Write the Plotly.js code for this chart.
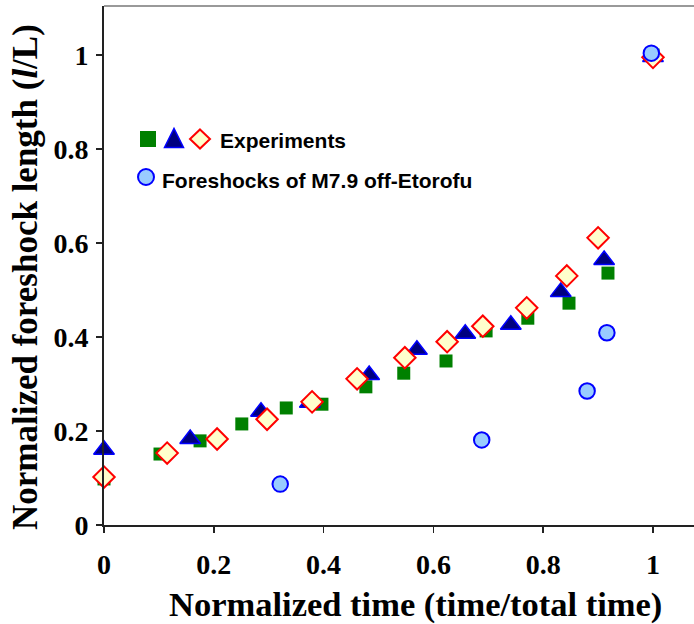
<!DOCTYPE html>
<html>
<head>
<meta charset="utf-8">
<script src="https://cdn.plot.ly/plotly-3.0.1.min.js"></script>
<style>html,body{margin:0;padding:0;background:#fff;}#chart{width:694px;height:624px;}</style>
</head>
<body>
<div id="chart"></div>
<script>
// Experiments: green squares
const sqX = [0.0, 0.102, 0.175, 0.251, 0.332, 0.397, 0.477, 0.546, 0.623, 0.696, 0.772, 0.847, 0.918, 1.0];
const sqY = [0.098, 0.151, 0.179, 0.215, 0.249, 0.257, 0.294, 0.323, 0.349, 0.413, 0.440, 0.472, 0.536, 1.0];
// Experiments: blue triangles
const triX = [0.0, 0.157, 0.286, 0.375, 0.483, 0.570, 0.658, 0.741, 0.832, 0.911, 1.0];
const triY = [0.160, 0.183, 0.241, 0.260, 0.319, 0.373, 0.407, 0.426, 0.496, 0.564, 0.996];
// Experiments: red diamonds
const diaX = [0.0, 0.115, 0.206, 0.297, 0.379, 0.461, 0.548, 0.625, 0.690, 0.770, 0.843, 0.900, 1.0];
const diaY = [0.102, 0.153, 0.183, 0.225, 0.262, 0.311, 0.356, 0.390, 0.423, 0.462, 0.530, 0.611, 0.995];
// Foreshocks of M7.9 off-Etorofu
const eqX = [0.321, 0.688, 0.880, 0.916, 0.997];
const eqY = [0.087, 0.181, 0.285, 0.409, 1.004];

const tickVals = [0, 0.2, 0.4, 0.6, 0.8, 1];
const tickText = ['0', '0.2', '0.4', '0.6', '0.8', '1'];

const serif = 'Liberation Serif, Times New Roman, serif';
const sans = 'Liberation Sans, Arial, sans-serif';

const traces = [
  {x: sqX, y: sqY, type: 'scatter', mode: 'markers', cliponaxis: false,
   marker: {symbol: 'square', size: 13, color: '#008000', line: {width: 0}}},
  {x: triX, y: triY, type: 'scatter', mode: 'markers', cliponaxis: false,
   marker: {symbol: 'triangle-up', size: 18, color: '#000080', line: {width: 1.5, color: '#0000FF'}}},
  {x: diaX, y: diaY, type: 'scatter', mode: 'markers', cliponaxis: false,
   marker: {symbol: 'diamond', size: 16.5, color: '#FFFFCC', line: {width: 2, color: '#FF0000'}}},
  {x: eqX, y: eqY, type: 'scatter', mode: 'markers', cliponaxis: false,
   marker: {symbol: 'circle', size: 15.5, color: '#99CCFF', line: {width: 2, color: '#0000FF'}}}
];

const W = 590, H = 519, L = 104, T = 6;
function px(x){ return (x - L) / W; }
function py(y){ return (T + H - y) / H; }

const layout = {
  width: 694, height: 624,
  margin: {l: L, r: 0, t: T, b: 624 - T - H},
  paper_bgcolor: '#fff', plot_bgcolor: '#fff',
  showlegend: false,
  xaxis: {
    range: [0, 1.0747], tickvals: tickVals, ticktext: tickText,
    showgrid: false, zeroline: false, showline: true, linecolor: '#222', linewidth: 2,
    ticks: 'outside', ticklen: 6, tickwidth: 1.5, tickcolor: '#222',
    ticklabelstandoff: 7,
    tickfont: {family: serif, size: 28, color: '#000', weight: 'bold'}
  },
  yaxis: {
    range: [0, 1.1043], tickvals: tickVals, ticktext: tickText,
    showgrid: false, zeroline: false, showline: true, linecolor: '#222', linewidth: 2,
    ticks: 'outside', ticklen: 6, tickwidth: 1.5, tickcolor: '#222',
    ticklabelstandoff: 2,
    tickfont: {family: serif, size: 28, color: '#000', weight: 'bold'}
  },
  shapes: [
    {type: 'line', xref: 'paper', yref: 'paper', x0: 0, x1: 1, y0: 1, y1: 1, line: {color: '#999', width: 2}},
    // legend symbols
    {type: 'rect', xref: 'paper', yref: 'paper', xsizemode: 'pixel', ysizemode: 'pixel',
     xanchor: px(148), yanchor: py(139), x0: -8, x1: 8, y0: -8, y1: 8,
     fillcolor: '#008000', line: {width: 0}},
    {type: 'path', xref: 'paper', yref: 'paper', xsizemode: 'pixel', ysizemode: 'pixel',
     xanchor: px(174), yanchor: py(138), path: 'M -9.5 -9.5 L 9.5 -9.5 L 0 9.5 Z',
     fillcolor: '#000080', line: {width: 1.5, color: '#0000FF'}},
    {type: 'path', xref: 'paper', yref: 'paper', xsizemode: 'pixel', ysizemode: 'pixel',
     xanchor: px(200), yanchor: py(139), path: 'M 0 9.5 L 10 0 L 0 -9.5 L -10 0 Z',
     fillcolor: '#FFFFCC', line: {width: 2, color: '#FF0000'}},
    {type: 'circle', xref: 'paper', yref: 'paper', xsizemode: 'pixel', ysizemode: 'pixel',
     xanchor: px(146), yanchor: py(177), x0: -8, x1: 8, y0: -8, y1: 8,
     fillcolor: '#99CCFF', line: {width: 2, color: '#0000FF'}}
  ],
  annotations: [
    {text: 'Experiments', xref: 'paper', yref: 'paper', x: px(218), y: py(140),
     xanchor: 'left', yanchor: 'middle', showarrow: false,
     font: {family: sans, size: 21, color: '#000', weight: 'bold'}},
    {text: 'Foreshocks of M7.9 off-Etorofu', xref: 'paper', yref: 'paper', x: px(160), y: py(181),
     xanchor: 'left', yanchor: 'middle', showarrow: false,
     font: {family: sans, size: 21, color: '#000', weight: 'bold'}},
    {text: 'Normalized time (time/total time)', xref: 'paper', yref: 'paper', x: px(415), y: py(604),
     xanchor: 'center', yanchor: 'middle', showarrow: false,
     font: {family: serif, size: 34.5, color: '#000', weight: 'bold'}},
    {text: 'Normalized foreshock length (<i>l</i>/L)', xref: 'paper', yref: 'paper', x: px(25), y: py(277),
     xanchor: 'center', yanchor: 'middle', showarrow: false, textangle: -90,
     font: {family: serif, size: 35, color: '#000', weight: 'bold'}}
  ]
};

Plotly.newPlot('chart', traces, layout, {displayModeBar: false, staticPlot: true});
</script>
</body>
</html>
